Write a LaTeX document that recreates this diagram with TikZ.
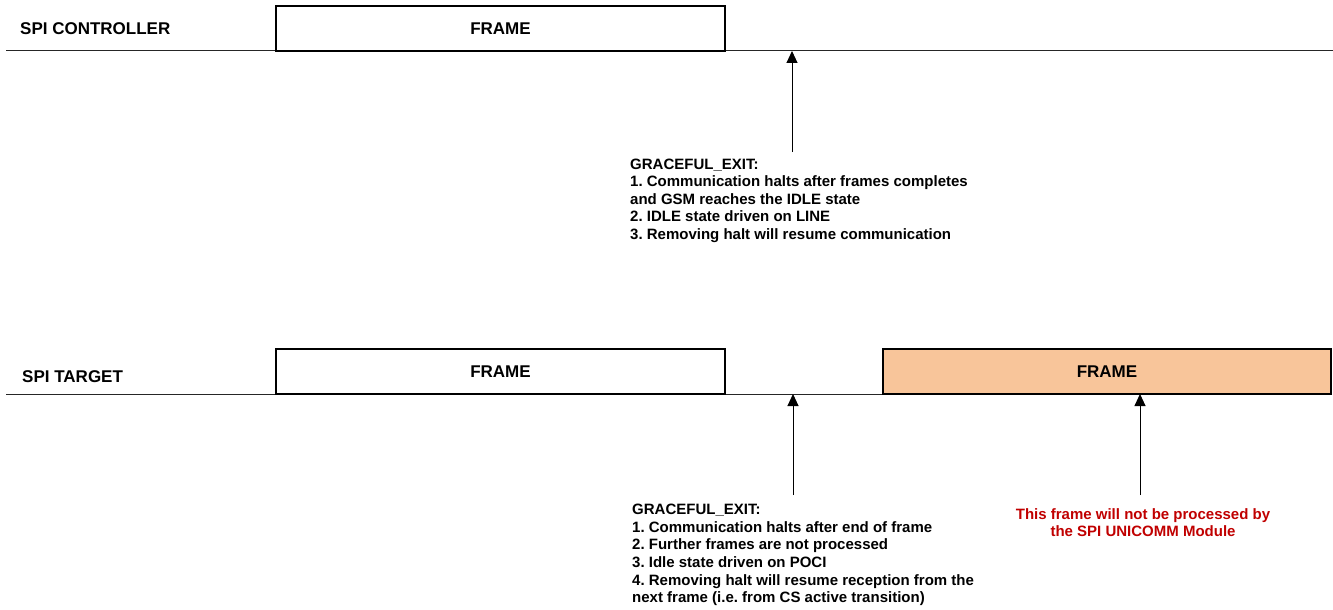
\documentclass[tikz,border=0pt]{standalone}
\usepackage{fontspec}
\setmainfont{Liberation Sans}
\usepackage{xcolor}
\usetikzlibrary{positioning,arrows.meta,calc}

\definecolor{framefill}{RGB}{248,197,154}
\definecolor{notered}{RGB}{192,0,0}
\frenchspacing

\tikzset{
    timeline/.style={draw=black!85, line width=1pt},
    framebox/.style={draw, line width=2pt, minimum width=449pt, minimum height=45pt,
        inner sep=0pt, font=\bfseries\fontsize{17}{20}\selectfont},
    sigtitle/.style={anchor=base west, inner sep=0pt, font=\bfseries\fontsize{17}{20}\selectfont},
    notetext/.style={anchor=north west, inner sep=0pt, align=left,
        font=\bfseries\fontsize{15}{17.6}\selectfont},
    uparrow/.style={line width=1pt, -{Triangle[length=12pt,width=11pt]}}
}

\begin{document}
\begin{tikzpicture}[x=1pt, y=-1pt]
    \useasboundingbox (0,0) rectangle (1333,610);

    % controller side
    \node[sigtitle] (ctrl_title) at (20,34.3) {SPI CONTROLLER};
    \coordinate (ctrl_start) at (6,51);
    \coordinate (ctrl_end) at (1333,51);
    \draw[timeline] (ctrl_start) -- (ctrl_end);
    \node[framebox, fill=white] (ctrl_frame) at (500.5,28.5) {FRAME};

    \coordinate (ctrl_tail) at (792,152);
    \draw[uparrow] (ctrl_tail) -- (ctrl_tail |- ctrl_start);
    \node[notetext] (ctrl_note) at (630,158.5) {GRACEFUL\_EXIT:\\
        1. Communication halts after frames completes\\
        and GSM reaches the IDLE state\\
        2. IDLE state driven on LINE\\
        3. Removing halt will resume communication};

    % target side
    \node[sigtitle] (tgt_title) at (22,382) {SPI TARGET};
    \coordinate (tgt_start) at (6,394);
    \coordinate (tgt_end) at (1331,394);
    \draw[timeline] (tgt_start) -- (tgt_end);
    \node[framebox, fill=white] (tgt_frame) at (500.5,371.5) {FRAME};
    \node[framebox, fill=framefill, minimum width=448pt] (tgt_late) at (1107,371.5) {FRAME};

    \coordinate (tgt_tail) at (793,495);
    \draw[uparrow] (tgt_tail) -- (tgt_tail |- tgt_start);
    \node[notetext] (tgt_note) at (632,504) {GRACEFUL\_EXIT:\\
        1. Communication halts after end of frame\\
        2. Further frames are not processed\\
        3. Idle state driven on POCI\\
        4. Removing halt will resume reception from the\\
        next frame (i.e. from CS active transition)};

    \coordinate (late_tail) at (1140,495);
    \draw[uparrow] (late_tail) -- (late_tail |- tgt_start);
    \node[notetext, anchor=north, align=center, text=notered,
        font=\bfseries\fontsize{15}{17.3}\selectfont] (late_note) at (1143,508) {This frame will not be processed by\\
        the SPI UNICOMM Module};
\end{tikzpicture}
\end{document}
